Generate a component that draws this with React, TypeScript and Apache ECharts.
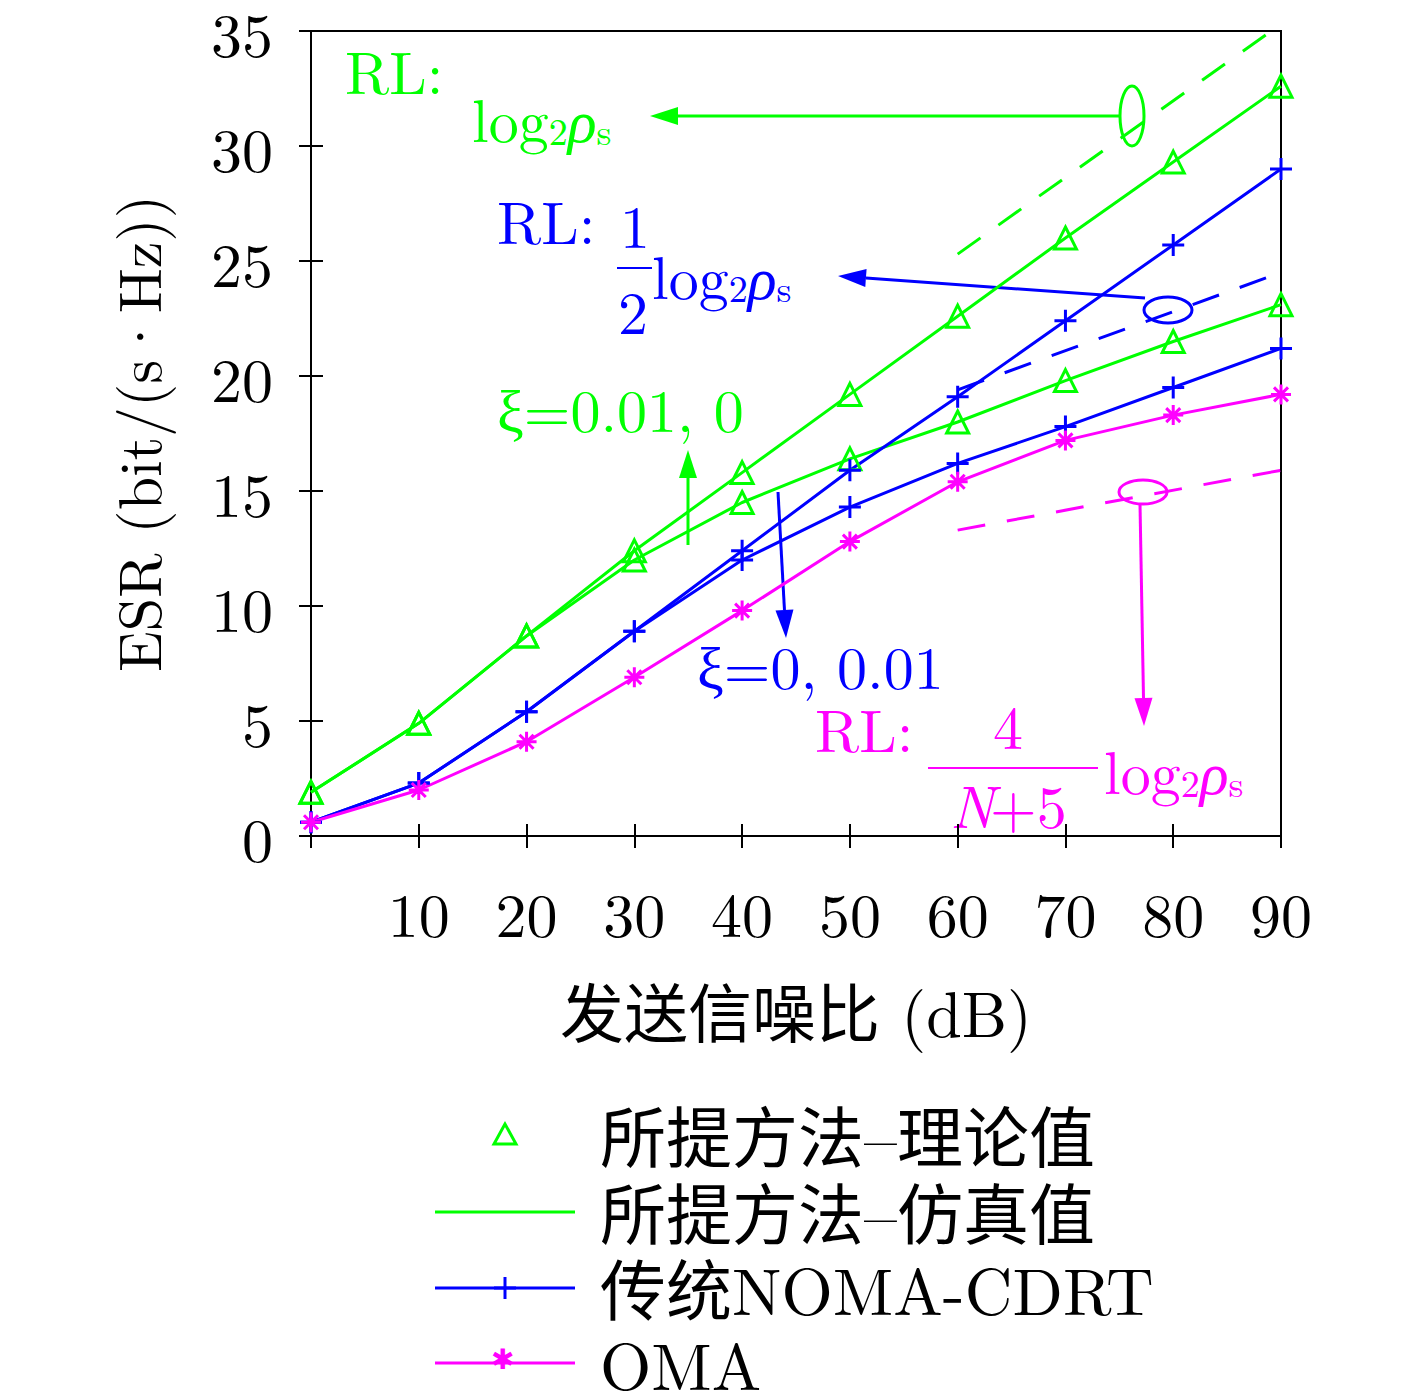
import { useEffect, useRef } from "react";
import * as echarts from "echarts";

const snr = [0, 10, 20, 30, 40, 50, 60, 70, 80, 90];
const propUpper = [1.9, 4.9, 8.7, 12.4, 15.8, 19.2, 22.6, 26.0, 29.3, 32.6];
const propLower = [1.9, 4.9, 8.7, 12.0, 14.5, 16.4, 18.0, 19.8, 21.5, 23.1];
const nomaUpper = [0.6, 2.3, 5.4, 8.9, 12.4, 15.9, 19.1, 22.4, 25.7, 29.0];
const nomaLower = [0.6, 2.3, 5.4, 8.9, 12.0, 14.3, 16.2, 17.8, 19.5, 21.2];
const oma = [0.6, 2.0, 4.1, 6.9, 9.8, 12.8, 15.4, 17.2, 18.3, 19.2];
const rlGreen = [[60, 25.3], [90, 35.3]];
const rlBlue = [[60, 19.4], [90, 24.5]];
const rlMagenta = [[60, 13.3], [90, 15.9]];
const xTicks = [10, 20, 30, 40, 50, 60, 70, 80, 90];

const GREEN = "#00ff00";
const BLUE = "#0000ff";
const MAG = "#ff00ff";
const SERIF = "'Latin Modern Roman', 'Liberation Serif', 'DejaVu Serif', serif";
const CJK = "'Noto Sans CJK SC', sans-serif";
const F = 60;

const pts = (ys: number[]) => ys.map((y, i) => [snr[i], y]);

const logRich = (color: string) => ({
  n: { fontFamily: SERIF, fontSize: F, color },
  sub: { fontFamily: SERIF, fontSize: 38, color, padding: [26, 0, 0, 0] },
  it: { fontFamily: SERIF, fontSize: F, fontStyle: "italic", color },
});

const logText = (x: number, y: number, color: string) => ({
  type: "text",
  left: x,
  top: y,
  style: { text: "{n|log}{sub|2}{it|ρ}{sub|s}", rich: logRich(color), fill: color },
});

const txt = (x: number, y: number, s: string, color: string, size = F, italic = false) => ({
  type: "text",
  left: x,
  top: y,
  style: { text: s, fill: color, font: `${italic ? "italic " : ""}${size}px ${SERIF}` },
});

const arrow = (x1: number, y1: number, x2: number, y2: number, color: string) => {
  const a = Math.atan2(y2 - y1, x2 - x1);
  const L = 28, W = 9;
  const bx = x2 - L * Math.cos(a), by = y2 - L * Math.sin(a);
  const px = -Math.sin(a) * W, py = Math.cos(a) * W;
  return [
    { type: "line", shape: { x1, y1, x2: bx, y2: by }, style: { stroke: color, lineWidth: 3 } },
    { type: "polygon", shape: { points: [[x2, y2], [bx + px, by + py], [bx - px, by - py]] }, style: { fill: color } },
  ];
};

const ell = (cx: number, cy: number, rx: number, ry: number, color: string) => ({
  type: "ellipse",
  shape: { cx, cy, rx, ry },
  style: { fill: "none", stroke: color, lineWidth: 3 },
});

const legendItem = (y: number, color: string, label: string, line: boolean, symbol?: string) => {
  const els: any[] = [];
  if (line) els.push({ type: "line", shape: { x1: 435, y1: y, x2: 575, y2: y }, style: { stroke: color, lineWidth: 3 } });
  if (symbol === "tri")
    els.push({ type: "polygon", shape: { points: [[505, y - 11], [494, y + 9], [516, y + 9]] }, style: { fill: "none", stroke: color, lineWidth: 3 } });
  if (symbol === "plus")
    els.push(
      { type: "line", shape: { x1: 494, y1: y, x2: 516, y2: y }, style: { stroke: color, lineWidth: 3 } },
      { type: "line", shape: { x1: 505, y1: y - 11, x2: 505, y2: y + 11 }, style: { stroke: color, lineWidth: 3 } },
    );
  if (symbol === "star")
    els.push({ type: "text", left: 491, top: y - 20, style: { text: "✱", fill: color, font: `28px ${SERIF}` } });
  els.push({ type: "text", left: 600, top: y - 34, style: { text: label, fill: "#000", font: `66px ${SERIF}, ${CJK}` } });
  return els;
};

const App = () => {
  const ref = useRef<HTMLDivElement>(null);

  useEffect(() => {
    if (!ref.current) return;
    const chart = echarts.init(ref.current, null, { renderer: "svg" });

    const dataSeries = (name: string, ys: number[], color: string, symbol: string, size: number) => ({
      name,
      type: "line",
      data: pts(ys),
      symbol,
      symbolSize: size,
      showSymbol: true,
      lineStyle: { color, width: 3 },
      itemStyle: { color: symbol === "triangle" ? "transparent" : color, borderColor: color, borderWidth: 3 },
    });
    const plusPath = "path://M0,10L20,10M10,0L10,20";
    const starPath = "path://M0,10L20,10M10,0L10,20M3,3L17,17M17,3L3,17";
    const dashed = (d: number[][], color: string) => ({
      type: "line",
      data: d,
      symbol: "none",
      lineStyle: { color, width: 3, type: [28, 22] },
    });
    const tick = { inside: true, length: 12, lineStyle: { color: "#000", width: 2 } };
    const axLine = { lineStyle: { color: "#000", width: 2 } };

    const option = {
      animation: false,
      grid: { left: 311, right: 136, top: 30, bottom: 558, show: true, borderColor: "#000", borderWidth: 2 },
      xAxis: [
        {
          type: "value",
          min: 0,
          max: 90,
          interval: 10,
          name: "发送信噪比 (dB)",
          nameLocation: "middle",
          nameGap: 142,
          nameTextStyle: { fontSize: 64, color: "#000", fontFamily: `${SERIF}, ${CJK}` },
          axisLine: axLine,
          axisTick: tick,
          axisLabel: {
            fontSize: 62,
            color: "#000",
            fontFamily: SERIF,
            margin: 44,
            formatter: (v: number) => (xTicks.includes(v) ? String(v) : ""),
          },
          splitLine: { show: false },
        },
        {
          type: "value",
          position: "top",
          min: 0,
          max: 90,
          interval: 10,
          axisLine: axLine,
          axisTick: tick,
          axisLabel: { show: false },
          splitLine: { show: false },
        },
      ],
      yAxis: [
        {
          type: "value",
          min: 0,
          max: 35,
          interval: 5,
          name: "ESR (bit/(s·Hz))",
          nameLocation: "middle",
          nameGap: 146,
          nameTextStyle: { fontSize: 60, color: "#000", fontFamily: SERIF },
          axisLine: axLine,
          axisTick: tick,
          axisLabel: { fontSize: 62, color: "#000", fontFamily: SERIF, margin: 38 },
          splitLine: { show: false },
        },
        {
          type: "value",
          position: "right",
          min: 0,
          max: 35,
          interval: 5,
          axisLine: axLine,
          axisTick: tick,
          axisLabel: { show: false },
          splitLine: { show: false },
        },
      ],
      series: [
        dashed(rlGreen, GREEN),
        dashed(rlBlue, BLUE),
        dashed(rlMagenta, MAG),
        dataSeries("所提方法-理论值 ξ=0.01", propUpper, GREEN, "triangle", 22),
        dataSeries("所提方法-理论值 ξ=0", propLower, GREEN, "triangle", 22),
        dataSeries("传统NOMA-CDRT ξ=0", nomaUpper, BLUE, plusPath, 22),
        dataSeries("传统NOMA-CDRT ξ=0.01", nomaLower, BLUE, plusPath, 22),
        dataSeries("OMA", oma, MAG, starPath, 20),
      ],
      graphic: [
        txt(345, 38, "RL:", GREEN),
        logText(472, 86, GREEN),
        ell(1132, 116, 12, 30, GREEN),
        ...arrow(1120, 116, 650, 116, GREEN),
        txt(497, 188, "RL:", BLUE),
        txt(620, 192, "1", BLUE),
        { type: "line", shape: { x1: 617, y1: 268, x2: 652, y2: 268 }, style: { stroke: BLUE, lineWidth: 2 } },
        txt(618, 278, "2", BLUE),
        logText(652, 243, BLUE),
        ell(1168, 310, 24, 13, BLUE),
        ...arrow(1145, 298, 838, 276, BLUE),
        txt(497, 376, "ξ=0.01, 0", GREEN),
        ...arrow(688, 545, 688, 450, GREEN),
        txt(697, 633, "ξ=0, 0.01", BLUE),
        ...arrow(778, 492, 786, 638, BLUE),
        txt(815, 696, "RL:", MAG),
        txt(993, 693, "4", MAG),
        { type: "line", shape: { x1: 928, y1: 768, x2: 1098, y2: 768 }, style: { stroke: MAG, lineWidth: 2 } },
        txt(950, 772, "N", MAG, F, true),
        txt(990, 772, "+5", MAG),
        logText(1104, 738, MAG),
        ell(1143, 492, 24, 12, MAG),
        ...arrow(1140, 504, 1144, 726, MAG),
        ...legendItem(1135, GREEN, "所提方法–理论值", false, "tri"),
        ...legendItem(1212, GREEN, "所提方法–仿真值", true),
        ...legendItem(1288, BLUE, "传统NOMA-CDRT", true, "plus"),
        ...legendItem(1363, MAG, "OMA", true, "star"),
      ],
    };

    chart.setOption(option as any);
    return () => chart.dispose();
  }, []);

  return (
    <div ref={ref} style={{ position: "absolute", left: 0, top: 0, width: 1417, height: 1394, background: "#fff" }} />
  );
};

export default App;
